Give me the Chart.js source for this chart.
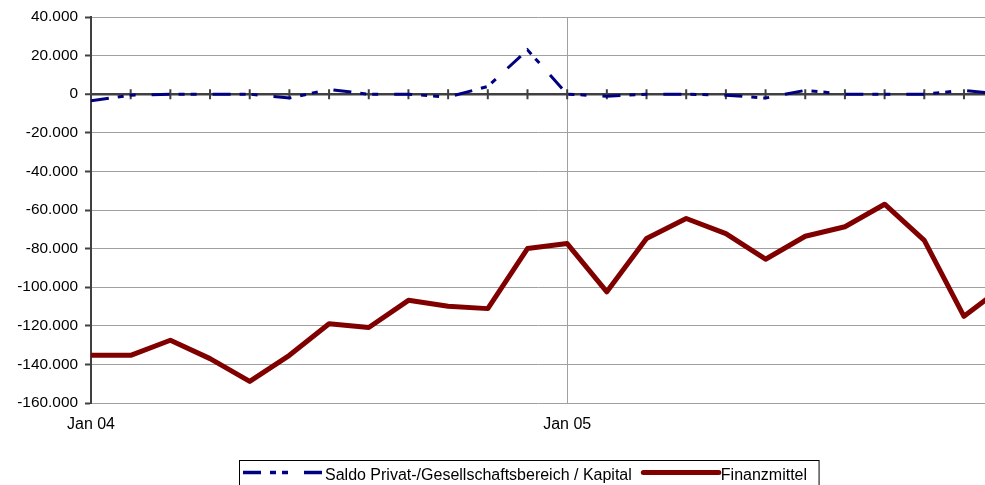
<!DOCTYPE html>
<html>
<head>
<meta charset="utf-8">
<script src="https://cdn.jsdelivr.net/npm/chart.js@4.4.1/dist/chart.umd.min.js"></script>
<style>
  html, body { margin: 0; padding: 0; background: #fff; }
  #wrap { width: 985px; height: 485px; position: relative; }
</style>
</head>
<body>
<div id="wrap"><canvas id="c"></canvas></div>
<script>
const months = ['Jan 04','Feb 04','Mär 04','Apr 04','Mai 04','Jun 04','Jul 04','Aug 04','Sep 04','Okt 04','Nov 04','Dez 04',
                'Jan 05','Feb 05','Mär 05','Apr 05','Mai 05','Jun 05','Jul 05','Aug 05','Sep 05','Okt 05','Nov 05','Dez 05'];
const saldo = [-3400, -500, 0, 0, 0, -2000, 2500, 0, 0, -1500, 4000, 23000,
               0, -1000, 0, 0, -500, -2000, 2000, 0, 0, 0, 2000, 0];
const finanz = [-135300, -135300, -127500, -137000, -148800, -135300, -118900, -120900, -106800, -109900, -111100, -80000,
                -77400, -102400, -74800, -64400, -72200, -85500, -73600, -68700, -57000, -75700, -115100, -99400];
const yTicks = [40000, 20000, 0, -20000, -40000, -60000, -80000, -100000, -120000, -140000, -160000];
const seriesNames = ['Saldo Privat-/Gesellschaftsbereich / Kapital', 'Finanzmittel'];

const toPts = arr => arr.map((v, i) => ({x: i, y: v}));
const fmt = v => (v < 0 ? '-' : '') + String(Math.abs(v)).replace(/\B(?=(\d{3})+(?!\d))/g, '.');

Chart.defaults.font.family = '"Liberation Sans", Arial, sans-serif';
Chart.defaults.color = '#000';

const decor = {
  id: 'decor',
  beforeDatasetsDraw(chart) {
    const {ctx, scales: {x, y}, chartArea} = chart;
    const y0 = y.getPixelForValue(0);
    ctx.save();
    ctx.strokeStyle = '#404040';
    ctx.lineWidth = 2;
    ctx.beginPath();
    for (let i = 0; i < months.length; i++) {
      const px = x.getPixelForValue(i);
      if (px > chartArea.right + 0.5) break;
      ctx.moveTo(px, y0 - 5);
      ctx.lineTo(px, y0 + 5);
    }
    ctx.stroke();
    ctx.restore();
  },
  afterDraw(chart) {
    const ctx = chart.ctx;
    ctx.save();
    ctx.font = '16px "Liberation Sans", Arial, sans-serif';
    ctx.textBaseline = 'alphabetic';
    ctx.textAlign = 'left';
    let x = 243;
    const ly = 472.5;
    let end = x;
    chart.data.datasets.forEach((ds, i) => {
      ctx.save();
      ctx.strokeStyle = ds.borderColor;
      ctx.lineWidth = i === 0 ? 3.5 : 5;
      ctx.lineCap = i === 0 ? 'butt' : 'round';
      ctx.setLineDash(ds.borderDash || []);
      ctx.beginPath();
      if (i === 0) { ctx.moveTo(x, ly); ctx.lineTo(x + 80, ly); }
      else { ctx.moveTo(x + 2.5, ly); ctx.lineTo(x + 78, ly); }
      ctx.stroke();
      ctx.restore();
      const tx = i === 0 ? x + 82 : x + 80;
      ctx.fillStyle = '#000';
      ctx.fillText(ds.label, tx, 480);
      end = tx + ctx.measureText(ds.label).width;
      x = end + 9;
    });
    ctx.strokeStyle = '#000';
    ctx.lineWidth = 1;
    ctx.strokeRect(239.5, 460.5, end + 12 - 239.5, 40);
    ctx.restore();
  }
};

new Chart(document.getElementById('c'), {
  type: 'line',
  data: {
    datasets: [
      {
        label: seriesNames[0],
        data: toPts(saldo),
        borderColor: '#000080',
        borderWidth: 3,
        borderDash: [18, 9, 6, 6, 6, 16],
        pointRadius: 0,
        tension: 0,
        fill: false
      },
      {
        label: seriesNames[1],
        data: toPts(finanz),
        borderColor: '#800000',
        borderWidth: 5,
        borderJoinStyle: 'round',
        pointRadius: 0,
        tension: 0,
        fill: false
      }
    ]
  },
  options: {
    responsive: true,
    maintainAspectRatio: false,
    animation: false,
    devicePixelRatio: 1,
    layout: { padding: { top: 17, right: 0, bottom: 52, left: 0 } },
    plugins: { legend: { display: false }, tooltip: { enabled: false } },
    scales: {
      x: {
        type: 'linear',
        min: 0,
        max: 22.53,
        border: { display: false },
        grid: {
          drawTicks: false,
          color: c => (c.tick && c.tick.value === 12) ? '#a0a0a0' : 'rgba(0,0,0,0)',
          lineWidth: 1
        },
        ticks: {
          stepSize: 12,
          includeBounds: false,
          autoSkip: false,
          maxRotation: 0,
          padding: 12,
          font: { size: 16 },
          callback: v => months[v] !== undefined && v % 12 === 0 ? months[v] : ''
        },
        afterFit: s => { s.height = 30; }
      },
      y: {
        type: 'linear',
        min: -160000,
        max: 40000,
        border: { display: true, color: '#404040', width: 2 },
        grid: {
          color: c => (c.tick && c.tick.value === 0) ? '#404040' : '#a0a0a0',
          lineWidth: c => (c.tick && c.tick.value === 0) ? 2.5 : 1,
          tickColor: '#404040',
          tickWidth: 2,
          tickLength: 6
        },
        afterBuildTicks: s => { s.ticks = yTicks.map(v => ({value: v})); },
        ticks: {
          padding: 7,
          font: { size: 15.4 },
          callback: v => fmt(v)
        },
        afterFit: s => { s.width = 91; }
      }
    }
  },
  plugins: [decor]
});
</script>
</body>
</html>
